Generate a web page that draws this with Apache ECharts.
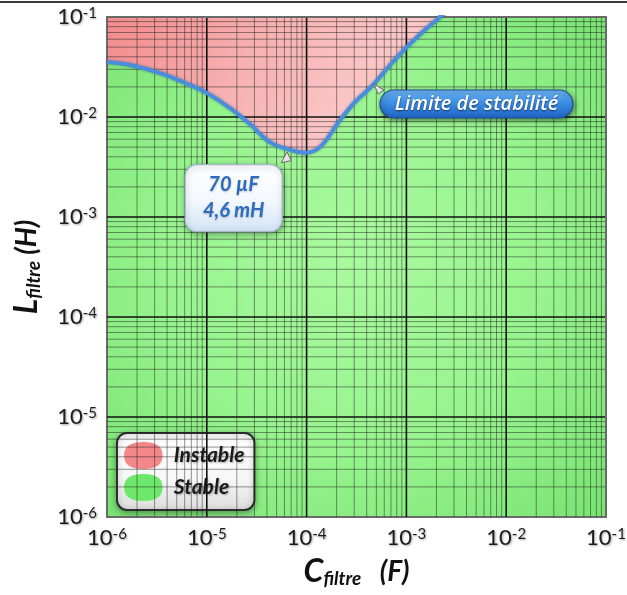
<!DOCTYPE html>
<html><head><meta charset="utf-8">
<script src="https://cdn.jsdelivr.net/npm/echarts@6/dist/echarts.min.js"></script>
<style>html,body{margin:0;padding:0;background:#fff}#c{width:627px;height:595px}</style>
</head><body><div id="c"></div>
<script>
// ---- data ----
const capacitance = [1.0e-6, 1.70e-6, 3.40e-6, 6.79e-6, 1.0e-5, 1.71e-5, 2.71e-5, 4.30e-5, 6.82e-5, 9.64e-5, 1.36e-4, 2.16e-4, 3.05e-4, 4.63e-4, 6.85e-4, 1.01e-3, 1.53e-3, 2.17e-3, 3.07e-3];
const inductance  = [0.0355, 0.0331, 0.0275, 0.0209, 0.0174, 0.0123, 0.0085, 0.0056, 0.0047, 0.0044, 0.0050, 0.0093, 0.0141, 0.0209, 0.0331, 0.0501, 0.0741, 0.100, 0.138];
const decades = [1e-6, 1e-5, 1e-4, 1e-3, 1e-2, 1e-1];
const minorMultipliers = [2, 3, 4, 5, 6, 7, 8, 9];
const minPoint = [70e-6, 4.6e-3];
const minPointText = ['70 µF', '4,6 mH'];
const limitText = 'Limite de stabilité';
const limitAnchorIndex = 13;
const legendNames = ['Instable', 'Stable'];

const curve = capacitance.map((c, i) => [c, inductance[i]]);
const axisMin = decades[0], axisMax = decades[decades.length - 1];

const chart = echarts.init(document.getElementById('c'), null, {renderer: 'canvas'});

const greenFill = {type: 'radial', x: 356, y: 260, r: 380, global: true,
  colorStops: [{offset: 0, color: '#aafa9f'}, {offset: 0.5, color: '#97f48e'}, {offset: 1, color: '#74e16e'}]};
const redFill = {type: 'linear', x: 107, y: 17, x2: 320, y2: 150, global: true,
  colorStops: [{offset: 0, color: '#f28a8c'}, {offset: 0.55, color: '#f7b0b0'}, {offset: 1, color: '#fbc6c6'}]};

// grid line values: [x, y, direction(0 = vertical, 1 = horizontal), kind(0 minor, 1 major, 2 edge)]
const gridRows = [];
decades.forEach((d, i) => {
  const kind = (i === 0 || i === decades.length - 1) ? 2 : 1;
  gridRows.push([d, axisMin, 0, kind], [axisMin, d, 1, kind]);
  if (i < decades.length - 1) minorMultipliers.forEach(m => {
    gridRows.push([m * d, axisMin, 0, 0], [axisMin, m * d, 1, 0]);
  });
});
const gridStyles = [
  {stroke: 'rgba(30,30,30,0.48)', lineWidth: 1},
  {stroke: '#111111', lineWidth: 1.6},
  {stroke: '#6a6a6a', lineWidth: 2}
];

const shadow = {textShadowColor: 'rgba(0,0,0,0.35)', textShadowBlur: 2, textShadowOffsetX: 1, textShadowOffsetY: 1};
const tickRich = {
  b: Object.assign({fontFamily: 'Lato', fontSize: 22, color: '#1c1c1c'}, shadow),
  s: Object.assign({fontFamily: 'Lato', fontSize: 15, color: '#1c1c1c', verticalAlign: 'top', lineHeight: 16}, shadow)
};
const tickFmt = v => '{b|10}{s|' + Math.round(Math.log10(v)) + '}';
const nameRich = {
  m: {fontFamily: 'Lato', fontWeight: 'bold', fontStyle: 'italic', fontSize: 32, color: '#111'},
  f: {fontFamily: 'Lato', fontWeight: 'bold', fontStyle: 'italic', fontSize: 19, color: '#111', verticalAlign: 'bottom', padding: [14, 0, 0, 0]},
  u: {fontFamily: 'Lato', fontWeight: 'bold', fontStyle: 'italic', fontSize: 28, color: '#111'}
};

const ellipse = 'path://M0,35 C0,10 18,0 50,0 C82,0 100,10 100,35 C100,60 82,70 50,70 C18,70 0,60 0,35 Z';

chart.setOption({
  animation: false,
  grid: {left: 107, top: 17, width: 499, height: 500, containLabel: false, outerBoundsMode: 'none',
    show: true, backgroundColor: greenFill, borderColor: '#6a6a6a', borderWidth: 2},
  xAxis: {type: 'log', logBase: 10, min: axisMin, max: axisMax,
    name: '{m|C}{f|filtre}{u|   (F)}', nameLocation: 'middle', nameGap: 38, nameTextStyle: {rich: nameRich},
    axisLine: {show: false}, axisTick: {show: false}, splitLine: {show: false},
    axisLabel: {formatter: tickFmt, rich: tickRich, margin: 10}},
  yAxis: {type: 'log', logBase: 10, min: axisMin, max: axisMax,
    name: '{m|L}{f|filtre}{u| (H)}', nameLocation: 'middle', nameGap: 64, nameRotate: 90, nameTextStyle: {rich: nameRich},
    axisLine: {show: false}, axisTick: {show: false}, splitLine: {show: false},
    axisLabel: {formatter: tickFmt, rich: tickRich, margin: 10}},
  legend: {
    data: [{name: legendNames[0], itemStyle: {color: '#f4878a', borderWidth: 0}}, {name: legendNames[1], itemStyle: {color: '#6ee86a', borderWidth: 0}}],
    orient: 'vertical', left: 117, top: 433, icon: ellipse, itemWidth: 39, itemHeight: 27, itemGap: 5,
    padding: [9, 10, 9, 7], selectedMode: false,
    backgroundColor: {type: 'linear', x: 0, y: 0, x2: 0, y2: 1, colorStops: [{offset: 0, color: '#ffffff'}, {offset: 0.6, color: '#f7f7f7'}, {offset: 1, color: '#dcdcdc'}]},
    borderColor: '#2e2e2e', borderWidth: 2, borderRadius: 10,
    shadowBlur: 6, shadowColor: 'rgba(0,0,0,0.35)', shadowOffsetY: 2,
    textStyle: Object.assign({fontFamily: 'Lato', fontStyle: 'italic', fontWeight: 'bold', fontSize: 21, color: '#1a1a1a', padding: [0, 0, 0, 6]},
      {textShadowColor: 'rgba(0,0,0,0.3)', textShadowBlur: 2, textShadowOffsetX: 1, textShadowOffsetY: 1})
  },
  series: [
    {name: legendNames[1], type: 'line', data: curve, smooth: 0.4, symbol: 'none', z: 2, silent: true,
      itemStyle: {color: '#6ee86a'}, lineStyle: {width: 0, opacity: 0}, areaStyle: {origin: 'start', color: greenFill, opacity: 1}},
    {name: legendNames[0], type: 'line', data: curve, smooth: 0.4, symbol: 'none', z: 3, silent: true,
      itemStyle: {color: '#f4878a'}, lineStyle: {width: 0, opacity: 0}, areaStyle: {origin: 'end', color: redFill, opacity: 1}},
    {name: 'grille', type: 'custom', data: gridRows, z: 4, silent: true, clip: false,
      encode: {x: 0, y: 1},
      renderItem: (params, api) => {
        const vertical = api.value(2) === 0;
        const v = api.value(vertical ? 0 : 1);
        const p1 = vertical ? api.coord([v, axisMin]) : api.coord([axisMin, v]);
        const p2 = vertical ? api.coord([v, axisMax]) : api.coord([axisMax, v]);
        return {type: 'line', shape: {x1: p1[0], y1: p1[1], x2: p2[0], y2: p2[1]}, style: gridStyles[api.value(3)]};
      }},
    {name: limitText, type: 'line', data: curve, smooth: 0.4, symbol: 'none', z: 10, silent: true,
      lineStyle: {color: '#4a8edb', width: 4, shadowColor: 'rgba(20,60,140,0.45)', shadowBlur: 3}}
  ]
});

// ---- callouts positioned from the data through the chart's scales ----
const pMin = chart.convertToPixel({gridIndex: 0}, minPoint);
const pLim = chart.convertToPixel({gridIndex: 0}, curve[limitAnchorIndex]);
const tri = (x, y, pts) => ({type: 'polygon', shape: {points: pts.map(p => [x + p[0], y + p[1]])},
  style: {fill: '#e4e4e4', stroke: '#6a6a6a', lineWidth: 1}, z: 20});
const boxX = pMin[0] - 106, boxY = pMin[1] + 14;
const pillX = pLim[0] + 7, pillY = pLim[1] + 5;
chart.setOption({graphic: [
  {type: 'line', shape: {x1: 0, y1: 2, x2: 627, y2: 2}, style: {stroke: '#3a3a3a', lineWidth: 2}, z: 30},
  {type: 'rect', shape: {x: boxX, y: boxY, width: 97, height: 67, r: 12}, z: 20,
    style: {fill: {type: 'linear', x: 0, y: 0, x2: 0, y2: 1, colorStops: [{offset: 0, color: '#ffffff'}, {offset: 0.55, color: '#f3f8fd'}, {offset: 1, color: '#d2e4f6'}]},
      stroke: '#9fb6cf', lineWidth: 1.2, shadowBlur: 6, shadowColor: 'rgba(0,0,0,0.35)', shadowOffsetX: 1, shadowOffsetY: 2}},
  tri(pMin[0], pMin[1], [[-4, 1], [-10, 12], [0, 10]]),
  {type: 'text', x: boxX + 48.5, y: boxY + 20, z: 21, style: {text: minPointText[0], align: 'center', verticalAlign: 'middle',
    font: 'italic bold 20px Lato', fill: '#2b6cbf', textShadowColor: 'rgba(0,0,0,0.25)', textShadowBlur: 2, textShadowOffsetY: 1}},
  {type: 'text', x: boxX + 48.5, y: boxY + 46, z: 21, style: {text: minPointText[1], align: 'center', verticalAlign: 'middle',
    font: 'italic bold 20px Lato', fill: '#2b6cbf', textShadowColor: 'rgba(0,0,0,0.25)', textShadowBlur: 2, textShadowOffsetY: 1}},
  {type: 'rect', shape: {x: pillX, y: pillY, width: 193, height: 28, r: 14}, z: 20,
    style: {fill: {type: 'linear', x: 0, y: 0, x2: 0, y2: 1, colorStops: [{offset: 0, color: '#6fb6f4'}, {offset: 0.45, color: '#3d8fe6'}, {offset: 1, color: '#1d62c4'}]},
      stroke: '#23508e', lineWidth: 1.2, shadowBlur: 5, shadowColor: 'rgba(0,0,0,0.45)', shadowOffsetX: 1, shadowOffsetY: 2}},
  tri(pLim[0], pLim[1], [[1, -1], [11, 5], [5, 9]]),
  {type: 'text', x: pillX + 96.5, y: pillY + 14, z: 21, style: {text: limitText, align: 'center', verticalAlign: 'middle',
    font: 'italic 600 20px "Open Sans"', fill: '#ffffff', textShadowColor: 'rgba(0,0,0,0.6)', textShadowBlur: 2, textShadowOffsetY: 1}}
]});
</script>
</body></html>
